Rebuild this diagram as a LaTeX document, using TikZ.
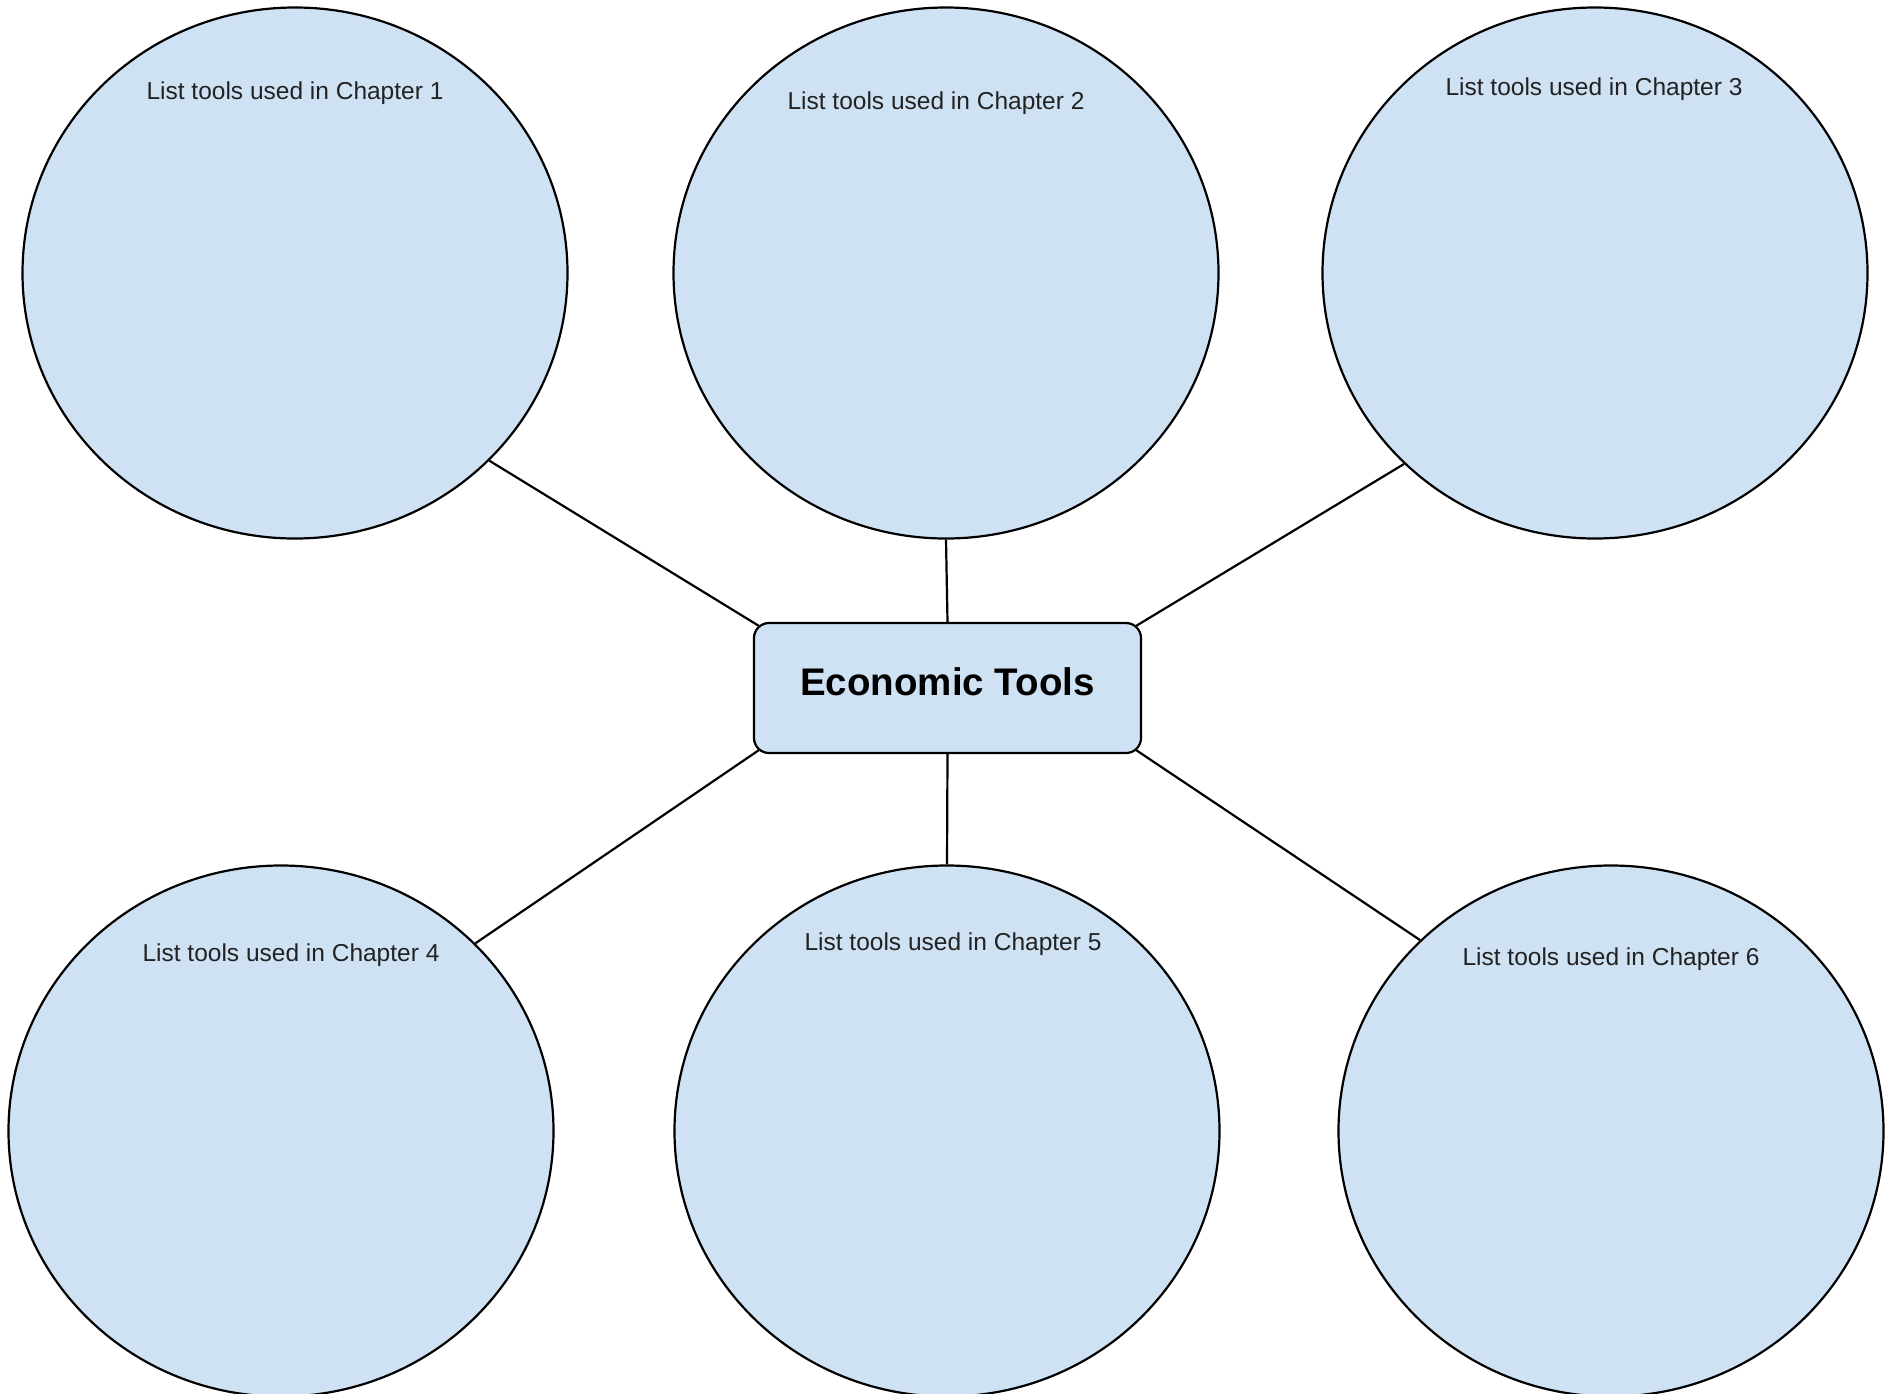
\documentclass[tikz,border=0pt]{standalone}
\usepackage{fontspec}
\setmainfont{Liberation Sans}
\usetikzlibrary{shapes.geometric,backgrounds,calc}
\definecolor{bubblefill}{HTML}{CFE2F3}
\definecolor{inkgray}{HTML}{222222}
\tikzset{
  bubble/.style={ellipse, draw=black, line width=2.2pt, fill=bubblefill,
    minimum width=545pt, minimum height=531pt, inner sep=0pt},
  hubbox/.style={rectangle, rounded corners=15pt, draw=black, line width=2.2pt, fill=bubblefill,
    minimum width=387pt, minimum height=130pt, inner sep=0pt,
    font=\fontsize{38.5}{44}\selectfont\bfseries},
  bubbletext/.style={text=inkgray, font=\fontsize{24.5}{29}\selectfont, inner sep=0pt},
  spoke/.style={draw=black, line width=2.2pt}
}
\begin{document}
\begin{tikzpicture}[x=1pt,y=-1pt]
\useasboundingbox (0,0) rectangle (1891,1393);
\node[bubble] (c1) at (295,273) {};
\node[bubble] (c2) at (946,273) {};
\node[bubble] (c3) at (1595,273) {};
\node[bubble] (c4) at (281,1131) {};
\node[bubble] (c5) at (947,1131) {};
\node[bubble] (c6) at (1611,1131) {};
\node[hubbox] (hub) at (947.5,688) {\raisebox{12pt}{Economic Tools}};
\node[bubbletext] (t1) at (295,93.5) {List tools used in Chapter 1};
\node[bubbletext] (t2) at (936,103.5) {List tools used in Chapter 2};
\node[bubbletext] (t3) at (1594,89.5) {List tools used in Chapter 3};
\node[bubbletext] (t4) at (291,955.5) {List tools used in Chapter 4};
\node[bubbletext] (t5) at (953,944.5) {List tools used in Chapter 5};
\node[bubbletext] (t6) at (1611,959.5) {List tools used in Chapter 6};
\begin{scope}[on background layer]
\coordinate (h1) at ($(hub.north west)+(6,4)$);
\coordinate (h3) at ($(hub.north east)+(-6,4)$);
\coordinate (h4) at ($(hub.south west)+(6,-4)$);
\coordinate (h6) at ($(hub.south east)+(-6,-4)$);
\draw[spoke] (c1.-44) -- (h1);
\draw[spoke] (c2.south) -- (hub.north);
\draw[spoke] (c3.-135) -- (h3);
\draw[spoke] (c4.44) -- (h4);
\draw[spoke] (c5.north) -- (hub.south);
\draw[spoke] (c6.135) -- (h6);
\end{scope}
\end{tikzpicture}
\end{document}
